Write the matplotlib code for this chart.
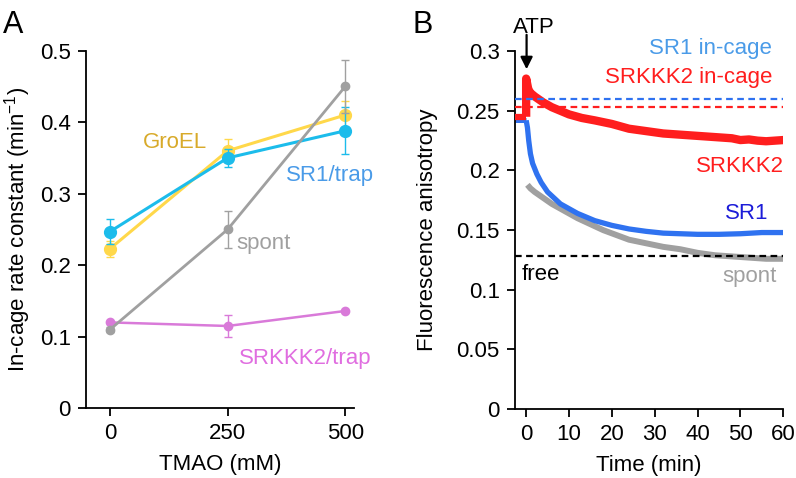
"""
Two-panel figure: in-cage rate constants vs TMAO (A) and anisotropy traces (B)
"""

import matplotlib.pyplot as plt
from matplotlib.ticker import FuncFormatter

plt.rcParams['font.family'] = ['Liberation Sans', 'DejaVu Sans']
plt.rcParams['mathtext.fontset'] = 'custom'
plt.rcParams['mathtext.rm'] = 'Liberation Sans'
FS = 16

# ---- Panel A data ----
tmao = [0, 250, 500]
groel = [0.223, 0.360, 0.410]
groel_err = [0.011, 0.016, 0.020]
sr1_trap = [0.247, 0.350, 0.388]
sr1_trap_err = [0.018, 0.013, 0.033]
spont_a = [0.110, 0.250, 0.450]
spont_a_err = [0.004, 0.026, 0.037]
srkkk2_trap = [0.120, 0.115, 0.136]
srkkk2_trap_err = [0.0, 0.015, 0.0]

# ---- Panel B data ----
t_pre = [-2.6, 0.0]
red_pre = [0.245, 0.245]
blue_pre = [0.242, 0.242]

t_red = [0.0, 0.0, 0.5, 1.0, 2.0, 4.0, 6.0, 8.0, 10.0, 13.0, 16.0, 20.0, 24.0,
         28.0, 32.0, 36.0, 40.0, 44.0, 48.0, 50.0, 52.0, 54.0, 56.0, 58.0, 60.0]
red = [0.245, 0.277, 0.268, 0.265, 0.262, 0.257, 0.253, 0.250, 0.247, 0.244,
       0.242, 0.239, 0.235, 0.233, 0.231, 0.230, 0.229, 0.228, 0.227, 0.2255,
       0.226, 0.225, 0.2245, 0.225, 0.2255]

t_blue = [0.0, 0.3, 0.6, 1.0, 1.5, 2.5, 3.5, 5.0, 6.5, 8.0, 10.0, 12.0, 14.0,
          16.0, 20.0, 24.0, 28.0, 32.0, 36.0, 40.0, 45.0, 50.0, 55.0, 60.0]
blue = [0.242, 0.236, 0.225, 0.214, 0.206, 0.197, 0.190, 0.182, 0.177, 0.172,
        0.168, 0.164, 0.161, 0.158, 0.154, 0.151, 0.149, 0.1475, 0.147,
        0.1465, 0.1465, 0.147, 0.148, 0.148]

t_gray = [0.3, 1.0, 2.0, 4.0, 6.0, 8.0, 10.0, 12.0, 15.0, 18.0, 21.0, 24.0,
          28.0, 32.0, 36.0, 40.0, 44.0, 48.0, 52.0, 56.0, 60.0]
gray = [0.188, 0.185, 0.182, 0.177, 0.172, 0.168, 0.164, 0.160, 0.155, 0.150,
        0.146, 0.142, 0.139, 0.136, 0.134, 0.131, 0.129, 0.128, 0.127, 0.126,
        0.126]

sr1_incage = 0.260
srkkk2_incage = 0.253
free_level = 0.128

C_YELLOW = '#FFD84A'
C_CYAN = '#1CBCEB'
C_GRAY = '#A0A0A0'
C_VIOLET = '#D97AD9'
C_RED = '#FF1E1E'
C_BLUE = '#2F72F0'
C_LBLUE = '#4A9BE8'


def trim(v, pos):
    return ('%g' % round(v, 3))


def style_axes(ax):
    for side in ['top', 'right']:
        ax.spines[side].set_visible(False)
    for side in ['left', 'bottom']:
        ax.spines[side].set_linewidth(1.3)
    ax.tick_params(direction='out', length=6, width=1.3, labelsize=FS, pad=5)
    ax.yaxis.set_major_formatter(FuncFormatter(trim))


fig = plt.figure(figsize=(7.96, 4.78), dpi=100)

# ---------------- Panel A ----------------
axA = fig.add_axes([0.108, 0.146, 0.337, 0.748])
axA.errorbar(tmao, srkkk2_trap, yerr=srkkk2_trap_err, color=C_VIOLET, lw=1.8,
             marker='o', ms=6, capsize=3, elinewidth=1, zorder=2)
axA.errorbar(tmao, groel, yerr=groel_err, color=C_YELLOW, lw=2.2,
             marker='o', ms=8.5, capsize=3, elinewidth=1, zorder=3)
axA.errorbar(tmao, sr1_trap, yerr=sr1_trap_err, color=C_CYAN, lw=2.2,
             marker='o', ms=8.5, capsize=3, elinewidth=1, zorder=4)
axA.errorbar(tmao, spont_a, yerr=spont_a_err, color=C_GRAY, lw=2.0,
             marker='o', ms=6, capsize=3, elinewidth=1, zorder=5)
axA.set_xlim(-51, 519)
axA.set_ylim(0, 0.5)
axA.set_xticks([0, 250, 500])
axA.set_yticks([0, 0.1, 0.2, 0.3, 0.4, 0.5])
style_axes(axA)
axA.set_xlabel('TMAO (mM)', fontsize=FS, labelpad=7)
axA.set_ylabel('In-cage rate constant (min$^{-1}$)', fontsize=FS, labelpad=5)

axA.text(138, 0.372, 'GroEL', color='#D8AA2A', fontsize=FS, ha='center', va='center')
axA.text(468, 0.325, 'SR1/trap', color=C_LBLUE, fontsize=FS, ha='center', va='center')
axA.text(268, 0.230, 'spont', color=C_GRAY, fontsize=FS, ha='left', va='center')
axA.text(415, 0.070, 'SRKKK2/trap', color='#E06EE0', fontsize=FS, ha='center', va='center')

fig.text(0.004, 0.948, 'A', fontsize=22, ha='left', va='center')

# ---------------- Panel B ----------------
axB = fig.add_axes([0.647, 0.144, 0.337, 0.749])
axB.plot(t_gray, gray, color=C_GRAY, lw=4.3, solid_capstyle='butt', zorder=2)
axB.plot(t_pre, blue_pre, color=C_BLUE, lw=3.6, solid_capstyle='butt', zorder=2)
axB.plot(t_blue, blue, color=C_BLUE, lw=3.8, solid_capstyle='butt', zorder=3)
axB.plot(t_pre, red_pre, color=C_RED, lw=4.5, solid_capstyle='butt', zorder=4)
axB.plot(t_red, red, color=C_RED, lw=6.0, solid_capstyle='butt', zorder=4)

axB.plot([-2.6, 60], [sr1_incage, sr1_incage], ls=(0, (3, 2)), color=C_BLUE, lw=1.6, zorder=5)
axB.plot([-2.6, 60], [srkkk2_incage, srkkk2_incage], ls=(0, (3, 2)), color=C_RED, lw=1.6, zorder=5)
axB.plot([-2.6, 60], [free_level, free_level], ls=(0, (3, 2)), color='black', lw=1.6, zorder=5)

axB.set_xlim(-2.6, 60)
axB.set_ylim(0, 0.3)
axB.set_xticks([0, 10, 20, 30, 40, 50, 60])
axB.set_yticks([0, 0.05, 0.1, 0.15, 0.2, 0.25, 0.3])
style_axes(axB)
axB.set_xlabel('Time (min)', fontsize=FS, labelpad=7)
axB.set_ylabel('Fluorescence anisotropy', fontsize=FS, labelpad=13)

axB.annotate('', xy=(0.1, 0.2825), xytext=(0.1, 0.316),
             arrowprops=dict(arrowstyle='-|>', color='black', lw=1.6,
                             mutation_scale=18), annotation_clip=False)
axB.text(1.8, 0.320, 'ATP', fontsize=FS, ha='center', va='center')

axB.text(57.4, 0.302, 'SR1 in-cage', color=C_LBLUE, fontsize=FS, ha='right', va='center')
axB.text(57.4, 0.278, 'SRKKK2 in-cage', color=C_RED, fontsize=FS, ha='right', va='center')
axB.text(60.1, 0.203, 'SRKKK2', color=C_RED, fontsize=FS, ha='right', va='center')
axB.text(56.5, 0.164, 'SR1', color='#1C1CD8', fontsize=FS, ha='right', va='center')
axB.text(-1.0, 0.113, 'free', color='black', fontsize=FS, ha='left', va='center')
axB.text(58.5, 0.111, 'spont', color=C_GRAY, fontsize=FS, ha='right', va='center')

fig.text(0.518, 0.948, 'B', fontsize=22, ha='left', va='center')

fig.savefig('out.png', dpi=100)
plt.close(fig)
